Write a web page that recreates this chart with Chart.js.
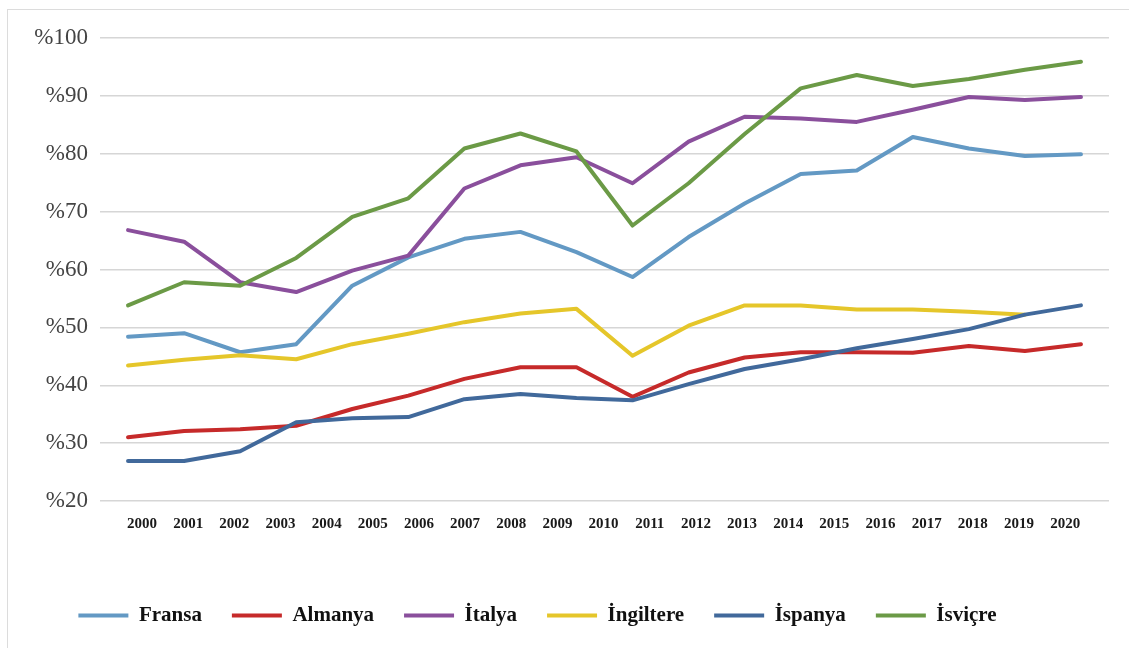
<!DOCTYPE html>
<html>
<head>
<meta charset="utf-8">
<script src="https://cdn.jsdelivr.net/npm/chart.js@4.4.0/dist/chart.umd.min.js"></script>
<style>
  body { margin: 0; background: #fff; overflow: hidden; }
  #wrap { position: relative; width: 1129px; height: 648px; }
  #frame { position: absolute; left: 7px; top: 9px; right: -5px; bottom: -5px;
           border-left: 1px solid #dcdcdc; border-top: 1px solid #dcdcdc; pointer-events: none; }
</style>
</head>
<body>
<div id="wrap">
  <canvas id="chart"></canvas>
  <div id="frame"></div>
</div>
<script>
// year labels under the axis
const years = [2000, 2001, 2002, 2003, 2004, 2005, 2006, 2007, 2008, 2009, 2010,
               2011, 2012, 2013, 2014, 2015, 2016, 2017, 2018, 2019, 2020];

// series (18 points each)
const fransa    = [48.4, 49.0, 45.7, 47.1, 57.2, 62.1, 65.3, 66.5, 63.0, 58.7, 65.6, 71.4, 76.5, 77.1, 82.9, 80.9, 79.6, 79.9];
const almanya   = [31.0, 32.1, 32.4, 33.0, 35.9, 38.2, 41.1, 43.1, 43.1, 38.0, 42.2, 44.8, 45.7, 45.7, 45.6, 46.8, 45.9, 47.1];
const italya    = [66.8, 64.8, 57.8, 56.1, 59.8, 62.4, 74.0, 78.0, 79.4, 74.9, 82.1, 86.4, 86.1, 85.5, 87.6, 89.8, 89.3, 89.8];
const ingiltere = [43.4, 44.4, 45.2, 44.5, 47.1, 48.9, 50.9, 52.4, 53.2, 45.1, 50.3, 53.8, 53.8, 53.1, 53.1, 52.7, 52.2, null];
const ispanya   = [26.9, 26.9, 28.6, 33.6, 34.3, 34.5, 37.6, 38.5, 37.8, 37.4, 40.2, 42.8, 44.5, 46.4, 48.0, 49.7, 52.2, 53.8];
const isvicre   = [53.8, 57.8, 57.2, 62.0, 69.1, 72.3, 80.9, 83.5, 80.4, 67.6, 74.9, 83.4, 91.3, 93.6, 91.7, 92.9, 94.5, 95.9];

const names  = ['Fransa', 'Almanya', 'İtalya', 'İngiltere', 'İspanya', 'İsviçre'];
const series = [fransa, almanya, italya, ingiltere, ispanya, isvicre];
const colors = ['#6399c4', '#c62a2a', '#8a4f9c', '#e5c62a', '#41699b', '#6b9a46'];

const toPoints = arr => arr.map((v, i) => ({ x: i, y: v }));

// nudges the legend into place (not a data mark)
const legendShift = {
    id: 'legendShift',
    afterLayout(chart) {
        const lg = chart.legend;
        lg.left -= 17; lg.right -= 17;
        lg.top -= 12; lg.bottom -= 12;
    }
};

const serif = "'Liberation Serif', 'Times New Roman', serif";

new Chart(document.getElementById('chart'), {
    type: 'line',
    data: {
        datasets: series.map((s, i) => ({
            label: names[i],
            data: toPoints(s),
            borderColor: colors[i],
            backgroundColor: colors[i],
            borderWidth: 4,
            borderCapStyle: 'round',
            borderJoinStyle: 'round',
            pointRadius: 0,
            pointStyle: 'line',
            tension: 0,
            spanGaps: false,
            order: series.length - i
        }))
    },
    options: {
        responsive: true,
        maintainAspectRatio: false,
        animation: false,
        layout: { padding: { top: 38, right: 20, bottom: 0, left: 0 } },
        plugins: {
            legend: {
                position: 'bottom',
                labels: {
                    usePointStyle: true,
                    pointStyleWidth: 50,
                    boxHeight: 4,
                    padding: 30,
                    color: '#111',
                    font: { family: serif, size: 21, weight: 'bold' },
                    sort: (a, b) => a.datasetIndex - b.datasetIndex
                }
            },
            tooltip: { enabled: false }
        },
        scales: {
            x: {
                type: 'linear',
                min: -0.5,
                max: 17.5,
                display: false
            },
            yr: {
                type: 'linear',
                position: 'bottom',
                min: 1999.09,
                max: 2020.95,
                afterBuildTicks: axis => { axis.ticks = years.map(v => ({ value: v })); },
                afterFit: axis => { axis.height = 86; },
                grid: { display: false, drawTicks: false },
                border: { display: false },
                ticks: {
                    autoSkip: false,
                    maxRotation: 0,
                    padding: 14,
                    color: '#1a1a1a',
                    font: { family: serif, size: 15, weight: 'bold' },
                    callback: v => String(v)
                }
            },
            y: {
                min: 20,
                max: 100,
                afterFit: axis => { axis.width = 100; },
                grid: { color: '#d6d6d6', lineWidth: 1.5, drawTicks: false },
                border: { display: false },
                ticks: {
                    stepSize: 10,
                    padding: 12,
                    color: '#444',
                    font: { family: serif, size: 23 },
                    callback: v => '%' + v
                }
            }
        }
    },
    plugins: [legendShift]
});
</script>
</body>
</html>
